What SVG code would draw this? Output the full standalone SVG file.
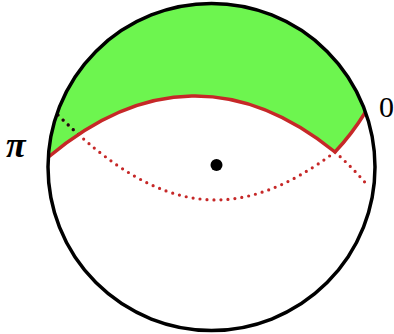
<svg xmlns="http://www.w3.org/2000/svg" width="394" height="334" viewBox="0 0 394 334">
<style>
.solid{fill:none;stroke:#c62828;stroke-width:3.5;stroke-linejoin:miter}
.dots{fill:none;stroke:#c62828;stroke-width:3.2;stroke-dasharray:0 7;stroke-linecap:round}
.lbl{font-family:"Liberation Serif",serif;fill:#000}
</style>
<defs>
<clipPath id="greenClip"><path d="M48.5,157 A163.5,163.5 0 0 1 365.5,112 Q352,134 335,152 C240.5,75.5 143,77.6 48.5,157 Z"/></clipPath>
</defs>
<rect width="394" height="334" fill="#fff"/>
<g id="region">
<path d="M48.5,157 A163.5,163.5 0 0 1 365.5,112 Q352,134 335,152 C240.5,75.5 143,77.6 48.5,157 Z" fill="#6df54f"/>
</g>
<g id="connectors">
<path class="dots" d="M58,115 C161.8,218.8 240.5,222.9 335,152"/>
<path d="M58,115 C161.8,218.8 240.5,222.9 335,152" fill="none" stroke="#111" stroke-width="3.2" stroke-dasharray="0 7" stroke-linecap="round" clip-path="url(#greenClip)"/>
<path class="dots" d="M335,152 Q353,168 369,187"/>
<path class="solid" d="M48.5,157 C143,77.6 240.5,75.5 335,152 Q352,134 365.5,112"/>
</g>
<g id="sphere">
<circle cx="211.5" cy="167" r="163.5" fill="none" stroke="#000" stroke-width="3.5"/>
</g>
<g id="center">
<circle cx="216.5" cy="165" r="6" fill="#000"/>
</g>
<g id="labels">
<text class="lbl" x="6" y="157" font-size="36" font-weight="bold" font-style="italic">π</text>
<text class="lbl" x="379" y="117" font-size="30">0</text>
</g>
</svg>
